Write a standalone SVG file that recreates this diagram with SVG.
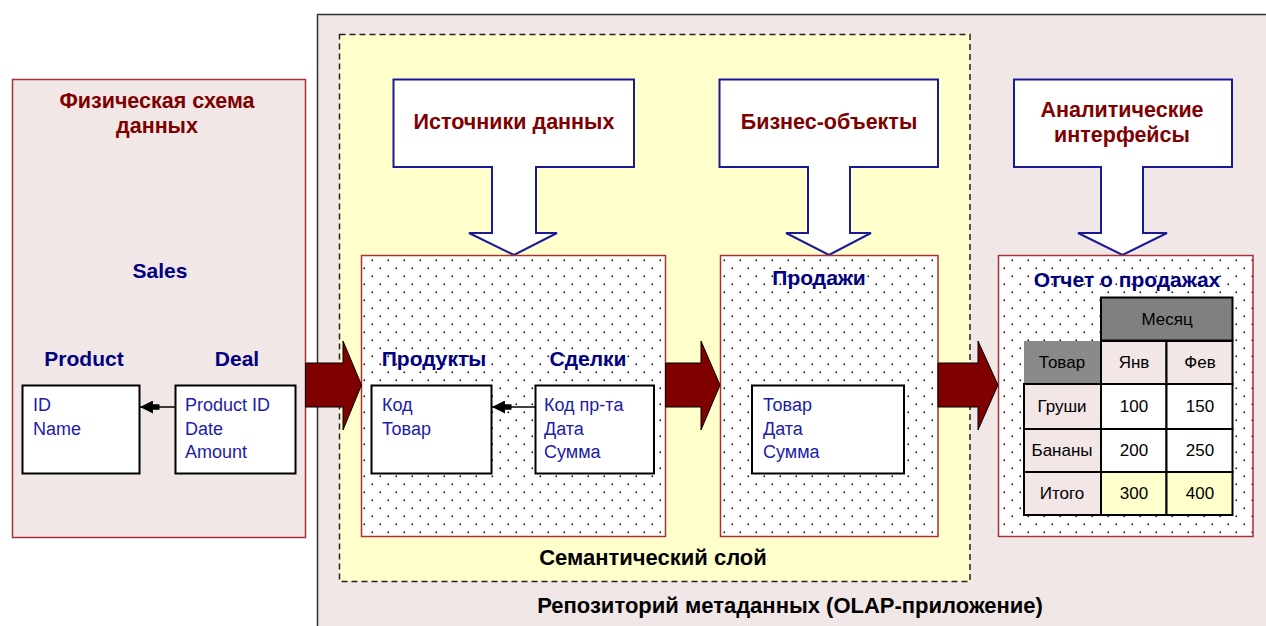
<svg xmlns="http://www.w3.org/2000/svg" width="1266" height="626" viewBox="0 0 1266 626">
<style>
text{font-family:"Liberation Sans",Arial,sans-serif}
.t1{font-size:21.5px;font-weight:bold;fill:#800000;text-anchor:middle}
.t2{font-size:21px;font-weight:bold;fill:#000080;text-anchor:middle}
.b{font-size:18px;fill:#1c1ca8}
.tb{font-size:17px;fill:#000;text-anchor:middle}
.blk{font-size:22px;font-weight:bold;fill:#000;text-anchor:middle}
.tbl{fill:#fff;stroke:#000;stroke-width:2}
.dot{fill:url(#dots);stroke:#a83232;stroke-width:1.5}
.call{fill:#fff;stroke:#1a1a99;stroke-width:2;stroke-linejoin:miter}
.big{fill:#800000;stroke:#000;stroke-width:1}
.cell{stroke:#000;stroke-width:2}
</style>
<defs>
<pattern id="dots" x="0" y="0" width="16" height="16" patternUnits="userSpaceOnUse">
<rect width="16" height="16" fill="#fff"/>
<rect x="3.5" y="3.5" width="1.6" height="1.6" fill="#111"/>
<rect x="11.5" y="11.5" width="1.6" height="1.6" fill="#111"/>
</pattern>
<marker id="ah" viewBox="0 0 18 12" markerWidth="20" markerHeight="13" markerUnits="userSpaceOnUse" refX="18" refY="6" orient="auto">
<path d="M0,3.5 H6 V0 L18,6 L6,12 V8.5 H0 Z" fill="#000"/>
</marker>
</defs>

<g id="repository">
<rect x="317.5" y="14.5" width="960" height="630" fill="#f1e7e7" stroke="#333" stroke-width="1.5"/>
<text class="blk" x="790" y="613">Репозиторий метаданных (OLAP-приложение)</text>
</g>

<g id="physical">
<rect x="12.5" y="79.5" width="293" height="458" fill="#f1e7e7" stroke="#a83232" stroke-width="1.5"/>
<text class="t1" x="157" y="108">Физическая схема</text>
<text class="t1" x="157" y="133">данных</text>
<text class="t2" x="160" y="278">Sales</text>
</g>

<g id="product">
<text class="t2" x="84" y="366">Product</text>
<rect class="tbl" x="22.5" y="385.5" width="117" height="88"/>
<text class="b" x="33" y="411">ID</text>
<text class="b" x="33" y="435">Name</text>
</g>

<g id="deal">
<text class="t2" x="237" y="366">Deal</text>
<rect class="tbl" x="175.5" y="385.5" width="120" height="88"/>
<text class="b" x="185" y="411">Product ID</text>
<text class="b" x="185" y="435">Date</text>
<text class="b" x="185" y="458">Amount</text>
</g>

<g id="semantic">
<rect x="339.5" y="34.5" width="630.5" height="547" fill="#ffffcc" stroke="#222" stroke-width="1.5" stroke-dasharray="6,4"/>
<text class="blk" x="653" y="565">Семантический слой</text>
</g>

<g id="src-callout">
<path class="call" d="M393.5,79.5 H634 V167 H536 V233 H557 L514,255 L469,233 H492 V167 H393.5 Z"/>
<text class="t1" x="514" y="129">Источники данных</text>
</g>

<g id="biz-callout">
<path class="call" d="M719.5,79.5 H938 V167 H850 V233 H871 L829,255 L786,233 H808 V167 H719.5 Z"/>
<text class="t1" x="829" y="129">Бизнес-объекты</text>
</g>

<g id="ui-callout">
<path class="call" d="M1014,79.5 H1232 V167 H1143 V233 H1167 L1122.5,255 L1078,233 H1101 V167 H1014 Z"/>
<text class="t1" x="1122" y="117">Аналитические</text>
<text class="t1" x="1122" y="142">интерфейсы</text>
</g>

<g id="sources">
<rect class="dot" x="361.5" y="255.5" width="304" height="281"/>
</g>

<g id="produkty">
<text class="t2" x="434" y="366">Продукты</text>
<rect class="tbl" x="371.5" y="385.5" width="120" height="88"/>
<text class="b" x="382" y="411">Код</text>
<text class="b" x="382" y="435">Товар</text>
</g>

<g id="sdelki">
<text class="t2" x="588" y="366">Сделки</text>
<rect class="tbl" x="535.5" y="385.5" width="118.5" height="88"/>
<text class="b" x="544" y="411">Код пр-та</text>
<text class="b" x="544" y="435">Дата</text>
<text class="b" x="544" y="458">Сумма</text>
</g>

<g id="prodazhi">
<rect class="dot" x="720.5" y="255.5" width="217.5" height="281"/>
<text class="t2" x="819" y="285">Продажи</text>
<rect class="tbl" x="752" y="385.5" width="152" height="88"/>
<text class="b" x="763" y="411">Товар</text>
<text class="b" x="763" y="435">Дата</text>
<text class="b" x="763" y="458">Сумма</text>
</g>

<g id="report">
<rect class="dot" x="998.5" y="255.5" width="254.5" height="281"/>
<text class="t2" x="1127" y="287">Отчет о продажах</text>
<rect x="1101" y="297.5" width="131.5" height="43" fill="#808080" class="cell"/>
<rect x="1024" y="341" width="77" height="43" fill="#8a8a8a"/>
<rect x="1101" y="341" width="65.5" height="43" fill="#f2e6e6" class="cell"/>
<rect x="1166.5" y="341" width="66" height="43" fill="#f2e6e6" class="cell"/>
<rect x="1024" y="384" width="77" height="45" fill="#f2e6e6" class="cell"/>
<rect x="1101" y="384" width="65.5" height="45" fill="#fff" class="cell"/>
<rect x="1166.5" y="384" width="66" height="45" fill="#fff" class="cell"/>
<rect x="1024" y="429" width="77" height="43" fill="#f2e6e6" class="cell"/>
<rect x="1101" y="429" width="65.5" height="43" fill="#fff" class="cell"/>
<rect x="1166.5" y="429" width="66" height="43" fill="#fff" class="cell"/>
<rect x="1024" y="472" width="77" height="43" fill="#f2e6e6" class="cell"/>
<rect x="1101" y="472" width="65.5" height="43" fill="#ffffcc" class="cell"/>
<rect x="1166.5" y="472" width="66" height="43" fill="#ffffcc" class="cell"/>
<text class="tb" x="1167" y="325">Месяц</text>
<text class="tb" x="1062" y="368">Товар</text>
<text class="tb" x="1134" y="368">Янв</text>
<text class="tb" x="1200" y="368">Фев</text>
<text class="tb" x="1062" y="412">Груши</text>
<text class="tb" x="1134" y="412">100</text>
<text class="tb" x="1200" y="412">150</text>
<text class="tb" x="1062" y="456">Бананы</text>
<text class="tb" x="1134" y="456">200</text>
<text class="tb" x="1200" y="456">250</text>
<text class="tb" x="1062" y="499">Итого</text>
<text class="tb" x="1134" y="499">300</text>
<text class="tb" x="1200" y="499">400</text>
</g>

<g id="connectors">
<line x1="175.5" y1="407" x2="140" y2="407" stroke="#000" stroke-width="1.5" marker-end="url(#ah)"/>
<line x1="535.5" y1="407" x2="492" y2="407" stroke="#000" stroke-width="1.5" marker-end="url(#ah)"/>
<path class="big" d="M305.5,363 H343 V341 L361.5,385 L343,430 V407 H305.5 Z"/>
<path class="big" d="M665.5,363 H701 V341 L720,385 L701,430 V407 H665.5 Z"/>
<path class="big" d="M938,363 H978 V341 L998,385 L978,430 V407 H938 Z"/>
</g>
</svg>
